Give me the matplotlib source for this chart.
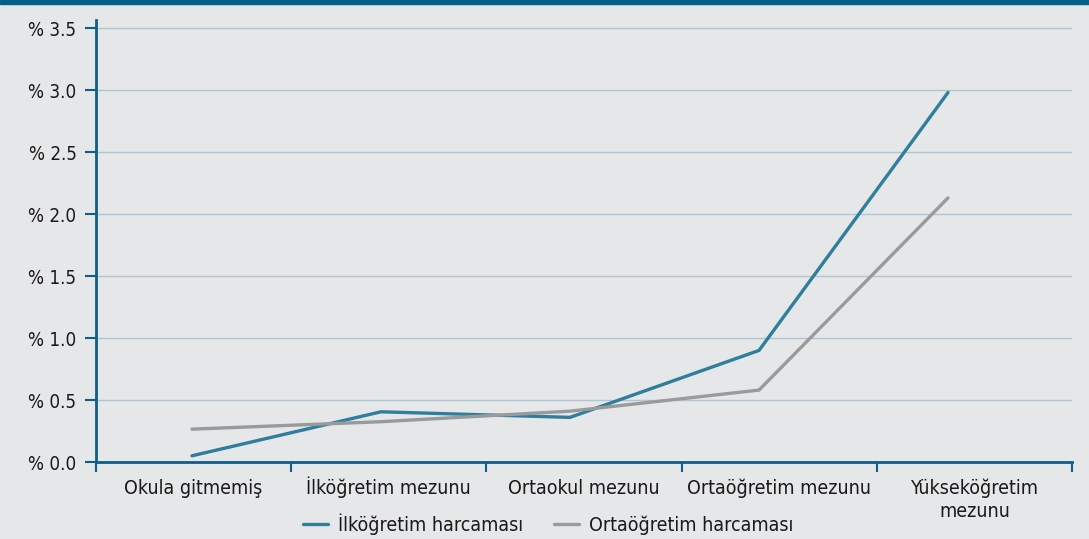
import matplotlib
matplotlib.use("Agg")
import matplotlib.pyplot as plt
from matplotlib.patches import Rectangle
from matplotlib.ticker import FixedLocator

categories = ["Okula gitmemiş", "İlköğretim mezunu", "Ortaokul mezunu",
              "Ortaöğretim mezunu", "Yükseköğretim\nmezunu"]
ilkogretim = [0.05, 0.405, 0.36, 0.90, 2.98]
ortaogretim = [0.265, 0.325, 0.41, 0.58, 2.13]
yticks = [0.0, 0.5, 1.0, 1.5, 2.0, 2.5, 3.0, 3.5]

BG = "#e6e7e9"
AXIS = "#0d5f86"
BLUE = "#2f7e9c"
GRAY = "#999a9c"
GRID = "#adc6d2"

plt.rcParams["font.family"] = ["DejaVu Sans"]
plt.rcParams["font.stretch"] = "condensed"

fig = plt.figure(figsize=(10.89, 5.39), dpi=100, facecolor=BG)
W, H = 1089, 539
ax = fig.add_axes([96 / W, 1 - 462 / H, (1072 - 96) / W, (462 - 20) / H])
ax.set_facecolor(BG)

# points are spaced a bit tighter than the category bands in the original
x = list(range(len(categories)))
xmin, xmax = -0.508, 4.656
ax.plot(x, ilkogretim, color=BLUE, lw=2.4, solid_capstyle="round",
        solid_joinstyle="miter", label="İlköğretim harcaması", zorder=3)
ax.plot(x, ortaogretim, color=GRAY, lw=2.4, solid_capstyle="round",
        solid_joinstyle="miter", label="Ortaöğretim harcaması", zorder=3)

ax.set_xlim(xmin, xmax)
ax.set_ylim(0, 3.565)

band = (xmax - xmin) / len(categories)
centers = [xmin + (i + 0.5) * band for i in range(len(categories))]
edges = [xmin + i * band for i in range(len(categories) + 1)]
ax.xaxis.set_major_locator(FixedLocator(centers))
ax.xaxis.set_minor_locator(FixedLocator(edges))
ax.set_xticks(centers)
ax.set_xticklabels([])
ax.tick_params(axis="x", which="major", length=0)
ax.tick_params(axis="x", which="minor", length=7, width=1.5, color=AXIS, direction="out")
# category labels: every first line on a common baseline
for cx, lab in zip(centers, categories):
    for k, line in enumerate(lab.split("\n")):
        ax.annotate(line, xy=(cx, 0), xycoords=("data", "axes fraction"),
                    xytext=(0, -23 - 16.5 * k), textcoords="offset points",
                    ha="center", va="baseline", fontsize=14, color="#1a1a1a",
                    annotation_clip=False)

ax.set_yticks(yticks)
ax.set_yticklabels([f"% {v:.1f}" for v in yticks], fontsize=13.5, color="#1a1a1a")
ax.tick_params(axis="y", length=8, width=1.5, color=AXIS, pad=6)

for v in yticks[1:]:
    ax.axhline(v, color=GRID, lw=1.0, zorder=1)

for s in ["top", "right"]:
    ax.spines[s].set_visible(False)
for s in ["left", "bottom"]:
    ax.spines[s].set_color(AXIS)
    ax.spines[s].set_linewidth(2)

fig.legend(loc="center", bbox_to_anchor=(548 / W, 1 - 524 / H), ncol=2,
           frameon=False, fontsize=14, handlelength=1.3, columnspacing=1.6,
           handletextpad=0.5)
for t in fig.legends[0].get_texts():
    t.set_color("#1a1a1a")

fig.patches.append(Rectangle((0, 1 - 4 / H), 1, 4 / H, transform=fig.transFigure,
                             color="#00618a", zorder=10))

fig.savefig("out.png", dpi=100, facecolor=BG)
